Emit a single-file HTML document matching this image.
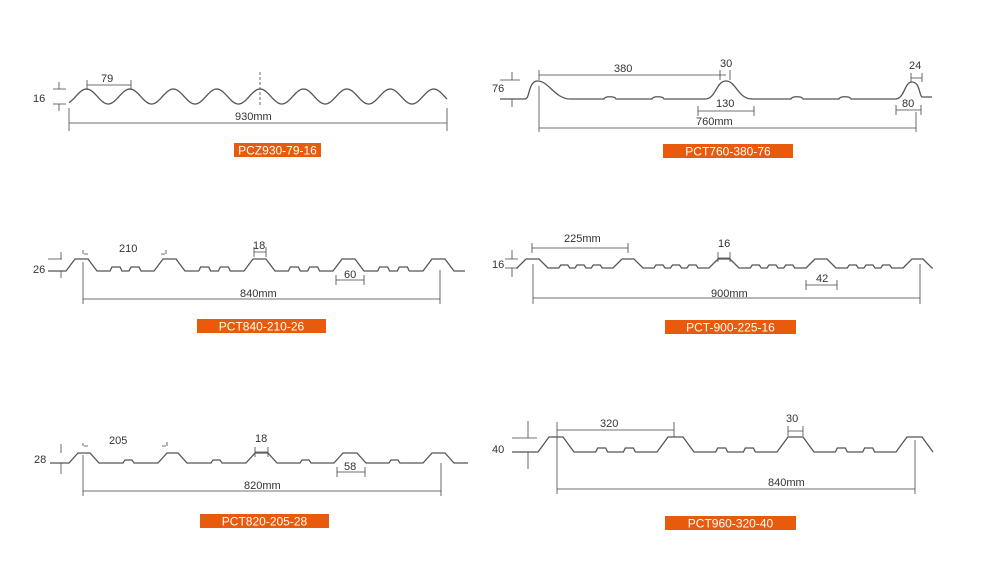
<!DOCTYPE html>
<html><head><meta charset="utf-8"><style>
html,body{margin:0;padding:0;background:#fff;}
svg{display:block;font-family:"Liberation Sans",Arial,sans-serif;}
.p{fill:none;stroke:#555;stroke-width:1.3;}
.d{fill:none;stroke:#444;stroke-width:0.8;}
text{fill:#333;font-size:11px;}
.lb{fill:#fff;font-size:12px;text-anchor:middle;}
</style></head><body>
<svg id="s" width="981" height="580" viewBox="0 0 981 580" xmlns="http://www.w3.org/2000/svg">
<rect x="234" y="143" width="87" height="14" fill="#e85a0c"/><text class="lb" x="277.5" y="154.5">PCZ930-79-16</text>
<rect x="663" y="144" width="130" height="14" fill="#e85a0c"/><text class="lb" x="728" y="155.5">PCT760-380-76</text>
<rect x="197" y="319" width="129" height="14" fill="#e85a0c"/><text class="lb" x="261.5" y="330.5">PCT840-210-26</text>
<rect x="665" y="320" width="131" height="14" fill="#e85a0c"/><text class="lb" x="730.5" y="331.5">PCT-900-225-16</text>
<rect x="200" y="514" width="129" height="14" fill="#e85a0c"/><text class="lb" x="264.5" y="525.5">PCT820-205-28</text>
<rect x="665" y="516" width="131" height="14" fill="#e85a0c"/><text class="lb" x="730.5" y="527.5">PCT960-320-40</text>

<path class="d" d="M69 123H447M69 108V131M447 108V131M87 85H131M87 80V90M131 80V90M53 89H66M59 82V89M59 104V111M53 104H66"/>
<path class="d" d="M260 72V106" stroke-dasharray="3,2"/>
<text x="33" y="102" font-size="12">16</text>
<text x="101" y="82" font-size="12">79</text>
<text x="235" y="120" font-size="12">930mm</text>

<path class="d" d="M539 75H726M539 70V80M720 70V80M730 70V80M539 86V132M539 128H916M916 112V132M698 111H754M698 106V116M754 106V116M896 110H921M896 105V115M921 105V115M911 78H922M911 73V82M922 73V82M500 80H520M512 72V80M500 99H520M512 99V107"/>
<text x="614" y="72" font-size="12">380</text>
<text x="720" y="67" font-size="12">30</text>
<text x="716" y="107" font-size="12">130</text>
<text x="902" y="107" font-size="12">80</text>
<text x="909" y="69" font-size="12">24</text>
<text x="492" y="92" font-size="12">76</text>
<text x="696" y="125" font-size="11">760mm</text>

<path class="d" d="M83 299H440M83 262V304M440 270V304M83 254V250M88 254H84M166 250V254M165 254H161M254 252H266M254 247V257M266 247V257M336 280H364M336 275V285M364 275V285M48 259H62M61 252V259M48 271H62M61 271V278"/>
<text x="119" y="252" font-size="12">210</text>
<text x="253" y="249" font-size="12">18</text>
<text x="344" y="278" font-size="12">60</text>
<text x="33" y="273" font-size="12">26</text>
<text x="240" y="297" font-size="11">840mm</text>

<path class="d" d="M533 298H920M533 264V304M920 264V304M532 248H628M532 243V253M628 243V253M718 258H730M718 252V262M730 252V262M806 285H837M806 280V290M837 280V290M505 259H518M512 250V259M505 268H518M512 268V277"/>
<text x="564" y="242" font-size="12">225mm</text>
<text x="718" y="247" font-size="12">16</text>
<text x="816" y="282" font-size="12">42</text>
<text x="492" y="268" font-size="12">16</text>
<text x="711" y="297" font-size="11">900mm</text>

<path class="d" d="M83 491H441M83 455V496M441 463V496M83 446V443M88 446H84M167 442V446M166 446H162M255 452H268M255 447V457M268 447V457M337 472H365M337 467V477M365 467V477M50 463H62M61 444V453M61 463V474"/>
<text x="109" y="444" font-size="12">205</text>
<text x="255" y="442" font-size="12">18</text>
<text x="344" y="470" font-size="12">58</text>
<text x="34" y="463" font-size="12">28</text>
<text x="244" y="489" font-size="11">820mm</text>

<path class="d" d="M557 489H915M557 437V494M915 440V494M557 430H674M557 422V437M674 422V437M788 431H803M788 426V436M803 426V436M512 438H537M528 421V438M512 452H537M528 452V469"/>
<text x="600" y="427" font-size="16">320</text>
<text x="786" y="422" font-size="16">30</text>
<text x="492" y="453" font-size="16">40</text>
<text x="768" y="486" font-size="15">840mm</text>

<path id="p1" class="p"/><path id="p2" class="p"/><path id="p3" class="p"/><path id="p4" class="p"/><path id="p5" class="p"/><path id="p6" class="p"/>
</svg>
<script>
(function(){
 var d="",x0=69,x1=447,per=43.4,c0=86.5;
 for(var x=x0;x<=x1;x+=1){var y=96.5-7.5*Math.cos((x-c0)/per*2*Math.PI);d+=(x==x0?"M":"L")+x+" "+y.toFixed(2);}
 document.getElementById("p1").setAttribute("d",d);
})();
function trap(id,start,end,fy,cy,crests,slope,ribs,rh,rw){
 var d="M"+start[0]+" "+start[1];
 for(var i=0;i<crests.length;i++){
  var c=crests[i];
  d+=" L"+(c[0]-slope)+" "+fy+" L"+c[0]+" "+cy+" L"+c[1]+" "+cy+" L"+(c[1]+slope)+" "+fy;
  if(i<crests.length-1){
   var a=c[1]+slope,b=crests[i+1][0]-slope;
   for(var k=1;k<=ribs;k++){
    var m=a+(b-a)*k/(ribs+1);
    d+=" L"+(m-rw/2-2)+" "+fy+" L"+(m-rw/2)+" "+(fy-rh)+" L"+(m+rw/2)+" "+(fy-rh)+" L"+(m+rw/2+2)+" "+fy;
   }
  }
 }
 d+=" L"+end[0]+" "+end[1];
 document.getElementById(id).setAttribute("d",d);
}
trap("p3",[48,271],[465,271],271,259,[[75,88],[163,176],[253,266],[342,355],[432,445]],9,2,4,8);
trap("p4",[516,268],[933,268],268,259,[[526,539],[622,634],[718,730],[815,827],[912,923]],9,3,3,7);
trap("p5",[50,463],[468,463],463,453,[[78,90],[167,178],[255,268],[343,357],[432,445]],9,1,3,7);
trap("p6",[512,452],[933,452],452,437,[[549,563],[668,683],[788,803],[907,922]],11,2,4,8);
(function(){
 var fy=99,d="M500 99 L525 99 C530 99 528 82 537 81 C548 80 555 99 570 99";
 function rib(x){return " L"+(x-6)+" "+fy+" C"+(x-5)+" 96 "+(x+5)+" 96 "+(x+6)+" "+fy;}
 d+=rib(610)+rib(658)+" L705 99 C716 99 716 81 726 81 C736 81 738 99 752 99"+rib(797)+rib(845)+" L895 99 C905 99 904 82 912 82 C920 82 919 95 922 97 L932 97";
 document.getElementById("p2").setAttribute("d",d);
})();
</script>
</body></html>
